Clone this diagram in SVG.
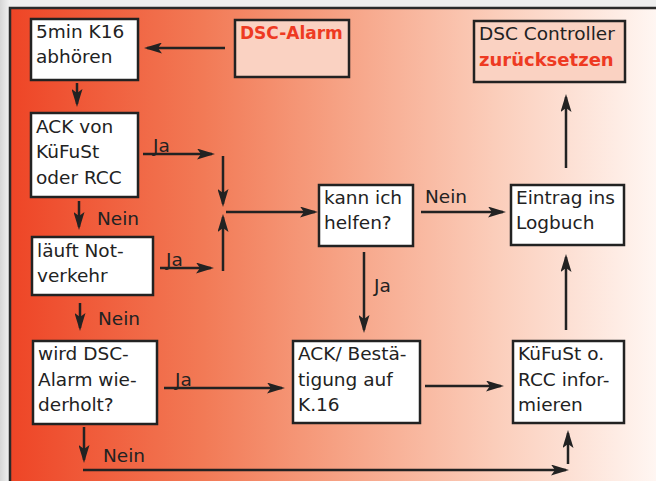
<svg xmlns="http://www.w3.org/2000/svg" width="656" height="481" viewBox="0 0 656 481">
<defs>
<linearGradient id="bg" x1="10" y1="0" x2="656" y2="0" gradientUnits="userSpaceOnUse">
<stop offset="0" stop-color="#EE4526"/>
<stop offset="0.3" stop-color="#F27A56"/>
<stop offset="0.5" stop-color="#F6A082"/>
<stop offset="0.75" stop-color="#FBCDBA"/>
<stop offset="1" stop-color="#FFF6F2"/>
</linearGradient>
<linearGradient id="side" x1="0" y1="0" x2="10" y2="0" gradientUnits="userSpaceOnUse">
<stop offset="0" stop-color="#d6d6d6"/>
<stop offset="1" stop-color="#f2f2f2"/>
</linearGradient>
<marker id="ah" viewBox="0 0 18 11" refX="15" refY="5.5" markerWidth="18" markerHeight="11" markerUnits="userSpaceOnUse" orient="auto">
<path d="M0,0 L18,5.5 L0,11 L4,5.5 Z" fill="#222"/>
</marker>
<style>
.box{fill:#fff;stroke:#222;stroke-width:2.5}
.pbox{fill:#FAD2C2;stroke:#222;stroke-width:2.5}
.t{font-family:"DejaVu Sans",Verdana,sans-serif;font-size:18.5px;fill:#222}
.r{font-family:"DejaVu Sans",Verdana,sans-serif;font-size:18px;font-weight:bold;fill:#EE3A22}
.c line{stroke:#222;stroke-width:2.5;marker-end:url(#ah)}
</style>
</defs>
<rect x="0" y="0" width="656" height="481" fill="#eeeeee"/>
<rect x="0" y="0" width="10" height="481" fill="url(#side)"/>
<rect x="10" y="8" width="660" height="490" fill="url(#bg)" stroke="#2a2a2a" stroke-width="2.5"/>

<g id="n-abhoeren"><rect class="box" x="31" y="19" width="107" height="61"/><text class="t" x="36" y="38">5min K16</text><text class="t" x="36" y="63">abhören</text></g>
<g id="n-dscalarm"><rect class="pbox" x="235" y="20" width="114" height="57"/><text class="r" x="240" y="39" style="font-size:17px">DSC-Alarm</text></g>
<g id="n-ack"><rect class="box" x="31" y="113" width="107" height="84"/><text class="t" x="36" y="133">ACK von</text><text class="t" x="36" y="158">KüFuSt</text><text class="t" x="36" y="184">oder RCC</text></g>
<g id="n-notverkehr"><rect class="box" x="32" y="237" width="121" height="58"/><text class="t" x="37" y="257">läuft Not-</text><text class="t" x="37" y="282">verkehr</text></g>
<g id="n-wiederholt"><rect class="box" x="33" y="341" width="124" height="83"/><text class="t" x="38" y="360">wird DSC-</text><text class="t" x="38" y="386">Alarm wie-</text><text class="t" x="38" y="411">derholt?</text></g>
<g id="n-helfen"><rect class="box" x="319" y="185" width="94" height="61"/><text class="t" x="324" y="204">kann ich</text><text class="t" x="324" y="229">helfen?</text></g>
<g id="n-logbuch"><rect class="box" x="511" y="185" width="113" height="60"/><text class="t" x="516" y="204">Eintrag ins</text><text class="t" x="516" y="229">Logbuch</text></g>
<g id="n-controller"><rect class="pbox" x="474" y="21" width="151" height="61"/><text class="t" x="479" y="40">DSC Controller</text><text class="r" x="479" y="66">zurücksetzen</text></g>
<g id="n-bestaetigung"><rect class="box" x="293" y="341" width="127" height="82"/><text class="t" x="298" y="360">ACK/ Bestä-</text><text class="t" x="298" y="386">tigung auf</text><text class="t" x="298" y="411">K.16</text></g>
<g id="n-informieren"><rect class="box" x="513" y="341" width="111" height="82"/><text class="t" x="518" y="360">KüFuSt o.</text><text class="t" x="518" y="386">RCC infor-</text><text class="t" x="518" y="411">mieren</text></g>

<g id="connectors" class="c">
<line x1="225" y1="48" x2="147" y2="48"/>
<line x1="77" y1="83" x2="77" y2="104"/>
<line x1="143" y1="154" x2="212" y2="154"/>
<line x1="223" y1="156" x2="223" y2="204"/>
<line x1="223" y1="271" x2="223" y2="217"/>
<line x1="226" y1="212" x2="315" y2="212"/>
<line x1="79" y1="201" x2="79" y2="227"/>
<line x1="160" y1="268" x2="211" y2="268"/>
<line x1="80" y1="303" x2="80" y2="328"/>
<line x1="164" y1="388" x2="282" y2="388"/>
<line x1="84" y1="427" x2="84" y2="460"/>
<line x1="83" y1="470" x2="566" y2="470"/>
<line x1="568" y1="464" x2="568" y2="433"/>
<line x1="364" y1="252" x2="364" y2="330"/>
<line x1="421" y1="212" x2="503" y2="212"/>
<line x1="425" y1="386" x2="501" y2="386"/>
<line x1="566" y1="330" x2="566" y2="257"/>
<line x1="566" y1="168" x2="566" y2="97"/>
<text class="t" x="153" y="152">Ja</text>
<text class="t" x="166" y="266">Ja</text>
<text class="t" x="175" y="386">Ja</text>
<text class="t" x="374" y="292">Ja</text>
<text class="t" x="97" y="225">Nein</text>
<text class="t" x="98" y="325">Nein</text>
<text class="t" x="103" y="462">Nein</text>
<text class="t" x="425" y="203">Nein</text>
</g>
</svg>
